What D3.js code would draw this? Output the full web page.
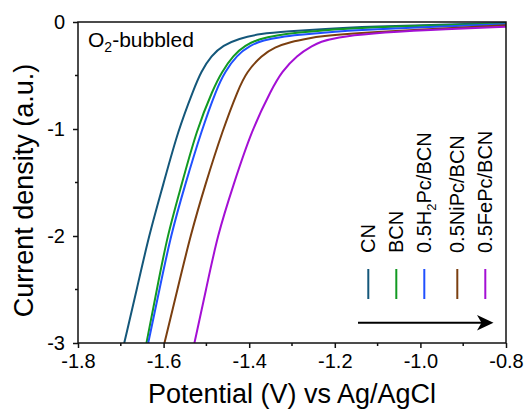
<!DOCTYPE html>
<html>
<head>
<meta charset="utf-8">
<script src="https://cdn.jsdelivr.net/npm/d3@7"></script>
<style>
  html, body { margin: 0; padding: 0; background: #fff; }
  svg { display: block; }
  text { font-family: "Liberation Sans", Arial, sans-serif; fill: #000; }
</style>
</head>
<body>
<svg id="chart" width="529" height="412"></svg>
<script>
// LSV curves (potential in V vs Ag/AgCl, current density in a.u.)
const cnE = [-1.692, -1.663, -1.634, -1.601, -1.566, -1.529, -1.513, -1.488, -1.461, -1.425, -1.375, -1.305, -1.235, -1.141, -0.800];
const cnI = [-3.0, -2.505, -1.991, -1.523, -1.009, -0.623, -0.467, -0.311, -0.218, -0.156, -0.109, -0.087, -0.068, -0.045, -0.009];

const bcnE = [-1.640, -1.616, -1.591, -1.558, -1.523, -1.484, -1.464, -1.437, -1.410, -1.375, -1.336, -1.289, -1.235, -1.141, -0.800];
const bcnI = [-3.0, -2.505, -1.991, -1.523, -1.009, -0.623, -0.467, -0.311, -0.218, -0.156, -0.124, -0.100, -0.080, -0.050, -0.014];

const h2pcE = [-1.636, -1.610, -1.583, -1.550, -1.511, -1.476, -1.457, -1.429, -1.398, -1.367, -1.328, -1.281, -1.235, -1.141, -0.800];
const h2pcI = [-3.0, -2.505, -1.991, -1.523, -1.009, -0.623, -0.467, -0.311, -0.218, -0.171, -0.140, -0.119, -0.103, -0.072, -0.020];

const nipcE = [-1.598, -1.568, -1.537, -1.503, -1.462, -1.425, -1.406, -1.371, -1.340, -1.305, -1.258, -1.235, -1.141, -0.800];
const nipcI = [-3.0, -2.505, -1.991, -1.523, -1.009, -0.623, -0.467, -0.311, -0.234, -0.187, -0.150, -0.135, -0.098, -0.030];

const fepcE = [-1.528, -1.501, -1.474, -1.437, -1.394, -1.347, -1.324, -1.289, -1.250, -1.235, -1.196, -1.118, -0.985, -0.800];
const fepcI = [-3.0, -2.505, -1.991, -1.523, -1.009, -0.623, -0.467, -0.311, -0.218, -0.187, -0.143, -0.106, -0.075, -0.044];

const seriesNames = ["CN", "BCN", "0.5H2Pc/BCN", "0.5NiPc/BCN", "0.5FePc/BCN"];
const seriesColors = ["#14577a", "#129a22", "#2050ff", "#7b3f10", "#a40fd4"];

const xTickValues = [-1.8, -1.6, -1.4, -1.2, -1.0, -0.8];
const xTickLabels = ["-1.8", "-1.6", "-1.4", "-1.2", "-1.0", "-0.8"];
const yTickValues = [0, -1, -2, -3];
const yTickLabels = ["0", "-1", "-2", "-3"];

const seriesData = [
  d3.zip(cnE, cnI), d3.zip(bcnE, bcnI), d3.zip(h2pcE, h2pcI),
  d3.zip(nipcE, nipcI), d3.zip(fepcE, fepcI)
];

const svg = d3.select("#chart");
const m = { left: 78, right: 23, top: 22, bottom: 69 };
const W = 529, H = 412;
const x = d3.scaleLinear().domain([-1.8, -0.8]).range([m.left, W - m.right]);
const y = d3.scaleLinear().domain([0, -3]).range([m.top, H - m.bottom]);

svg.append("defs").append("clipPath").attr("id", "plotClip")
  .append("rect").attr("x", m.left).attr("y", m.top)
  .attr("width", W - m.right - m.left).attr("height", H - m.bottom - m.top);

// curves (smoothed through the sampled points)
const line = d3.line().x(d => x(d[0])).y(d => y(d[1])).curve(d3.curveBasis);
svg.append("g").attr("clip-path", "url(#plotClip)")
  .selectAll("path").data(seriesData).join("path")
  .attr("d", line).attr("fill", "none")
  .attr("stroke", (d, i) => seriesColors[i]).attr("stroke-width", 2);

// frame
svg.append("rect").attr("x", m.left).attr("y", m.top)
  .attr("width", W - m.right - m.left).attr("height", H - m.bottom - m.top)
  .attr("fill", "none").attr("stroke", "#111").attr("stroke-width", 1.5);

// x axis: major + minor ticks
const xMinor = [-1.7, -1.5, -1.3, -1.1, -0.9];
const xAxis = d3.axisBottom(x).tickValues(xTickValues)
  .tickFormat((d, i) => xTickLabels[i]).tickSize(5).tickPadding(6);
const gx = svg.append("g").attr("transform", `translate(0,${H - m.bottom})`).call(xAxis);
gx.select(".domain").remove();
gx.selectAll(".tick line").attr("stroke", "#111").attr("stroke-width", 1.5);
gx.selectAll(".tick text").attr("font-size", 20).attr("font-family", "Liberation Sans, Arial, sans-serif");
gx.selectAll(".minor").data(xMinor).join("line").attr("class", "minor")
  .attr("x1", d => x(d)).attr("x2", d => x(d)).attr("y1", 0).attr("y2", 3)
  .attr("stroke", "#111").attr("stroke-width", 1.5);

// y axis
const yMinor = [-0.5, -1.5, -2.5];
const yAxis = d3.axisLeft(y).tickValues(yTickValues)
  .tickFormat((d, i) => yTickLabels[i]).tickSize(5).tickPadding(8);
const gy = svg.append("g").attr("transform", `translate(${m.left},0)`).call(yAxis);
gy.select(".domain").remove();
gy.selectAll(".tick line").attr("stroke", "#111").attr("stroke-width", 1.5);
gy.selectAll(".tick text").attr("font-size", 20).attr("font-family", "Liberation Sans, Arial, sans-serif");
gy.selectAll(".minor").data(yMinor).join("line").attr("class", "minor")
  .attr("x1", 0).attr("x2", -3).attr("y1", d => y(d)).attr("y2", d => y(d))
  .attr("stroke", "#111").attr("stroke-width", 1.5);

// axis titles
svg.append("text").attr("x", (m.left + W - m.right) / 2).attr("y", 403)
  .attr("text-anchor", "middle").attr("font-size", 27)
  .text("Potential (V) vs Ag/AgCl");
svg.append("text").attr("transform", `translate(33,${(m.top + H - m.bottom) / 2 + 8}) rotate(-90)`)
  .attr("text-anchor", "middle").attr("font-size", 27)
  .text("Current density (a.u.)");

// condition label
const cond = svg.append("text").attr("x", 88).attr("y", 47).attr("font-size", 21);
cond.append("tspan").text("O");
cond.append("tspan").attr("font-size", 14).attr("dy", 5).text("2");
cond.append("tspan").attr("dy", -5).text("-bubbled");

// legend: vertical labels above short colored bars
const legX = [368.3, 396.3, 424.3, 457.3, 485.3];
const leg = svg.append("g");
seriesNames.forEach((name, i) => {
  leg.append("line").attr("x1", legX[i]).attr("x2", legX[i])
    .attr("y1", 269).attr("y2", 299)
    .attr("stroke", seriesColors[i]).attr("stroke-width", 2);
  const t = leg.append("text")
    .attr("transform", `translate(${legX[i] + 7},253) rotate(-90)`)
    .attr("font-size", 20);
  const sub = name.indexOf("H2");
  if (sub >= 0) {
    t.append("tspan").text(name.slice(0, sub + 1));
    t.append("tspan").attr("font-size", 13).attr("dy", 5).text("2");
    t.append("tspan").attr("dy", -5).text(name.slice(sub + 2));
  } else {
    t.text(name);
  }
});

// trend arrow
leg.append("line").attr("x1", 358).attr("x2", 484).attr("y1", 322.7).attr("y2", 322.7)
  .attr("stroke", "#000").attr("stroke-width", 2);
leg.append("path")
  .attr("d", "M493.5,322.7 L477,315 L481.5,322.7 L477,330.4 Z")
  .attr("fill", "#000");
</script>
</body>
</html>
